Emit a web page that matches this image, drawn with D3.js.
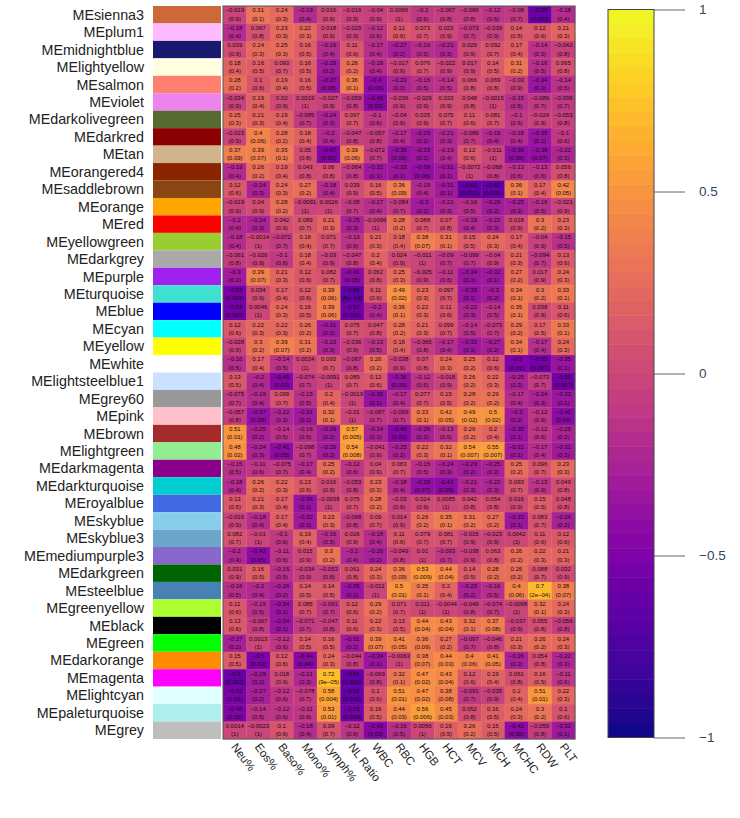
<!DOCTYPE html>
<html><head><meta charset="utf-8">
<script src="https://cdn.jsdelivr.net/npm/d3@7"></script>
<style>html,body{margin:0;padding:0;background:#fff}svg{display:block}text{font-family:"Liberation Sans",Arial,sans-serif}</style>
</head><body><div id="chart"></div>
<script>
const modules = ["MEsienna3","MEplum1","MEmidnightblue","MElightyellow","MEsalmon","MEviolet","MEdarkolivegreen","MEdarkred","MEtan","MEorangered4","MEsaddlebrown","MEorange","MEred","MEyellowgreen","MEdarkgrey","MEpurple","MEturquoise","MEblue","MEcyan","MEyellow","MEwhite","MElightsteelblue1","MEgrey60","MEpink","MEbrown","MElightgreen","MEdarkmagenta","MEdarkturquoise","MEroyalblue","MEskyblue","MEskyblue3","MEmediumpurple3","MEdarkgreen","MEsteelblue","MEgreenyellow","MEblack","MEgreen","MEdarkorange","MEmagenta","MElightcyan","MEpaleturquoise","MEgrey"];
const moduleColors = ["#CD6839","#FFBBFF","#191970","#FFFFE0","#FF8070","#EE82EE","#556B2F","#8B0000","#D2B48C","#8B2500","#8B4513","#FFA500","#FF0000","#9ACD32","#A9A9A9","#A020F0","#40E0D0","#0000FF","#00FFFF","#FFFF00","#FFFFFF","#CAE1FF","#999999","#FFC0CB","#A52A2A","#90EE90","#8B008B","#00CED1","#4169E1","#87CEEB","#6CA6CD","#8968CD","#006400","#4682B4","#ADFF2F","#000000","#00FF00","#FF8C00","#FF00FF","#E0FFFF","#AFEEEE","#BEBEBE"];
const traits = ["Neu%","Eos%","Baso%","Mono%","Lymph%","NL Ratio","WBC","RBC","HGB","HCT","MCV","MCH","MCHC","RDW","PLT"];
const corr = [
[-0.019,0.31,0.24,-0.19,0.016,-0.016,-0.04,0.0066,-0.1,-0.067,-0.066,-0.12,-0.08,-0.59,-0.18],
[-0.18,0.067,0.23,0.22,0.018,-0.029,-0.12,0.12,0.073,0.023,-0.073,-0.039,0.14,0.12,0.21],
[0.039,0.24,0.25,0.16,-0.19,0.11,-0.17,-0.27,-0.16,-0.21,0.029,0.092,0.17,-0.14,-0.042],
[0.18,0.16,0.093,0.16,-0.29,0.26,-0.18,-0.017,0.076,-0.022,0.017,0.14,0.31,-0.16,0.065],
[0.28,0.1,0.19,0.16,-0.37,0.36,-0.4,-0.23,-0.16,-0.14,0.066,0.069,-0.03,-0.34,-0.14],
[-0.034,0.19,0.02,0.0019,-0.027,-0.059,-0.45,-0.036,-0.029,0.033,0.048,-0.0015,-0.15,-0.089,-0.096],
[0.25,0.21,0.19,-0.085,-0.24,0.097,-0.1,-0.04,0.035,0.075,0.11,0.081,-0.1,-0.024,-0.053],
[-0.023,0.4,0.28,0.18,-0.2,-0.047,-0.057,-0.17,-0.29,-0.21,-0.089,-0.19,-0.18,-0.35,-0.1],
[0.37,0.39,0.35,0.05,-0.47,0.39,-0.072,-0.36,-0.33,-0.19,0.12,-0.011,-0.39,-0.38,-0.22],
[-0.19,0.26,0.19,0.043,0.06,-0.064,-0.32,-0.33,-0.39,-0.31,-0.0072,-0.068,-0.13,-0.13,0.056],
[0.12,-0.24,0.24,0.27,-0.18,0.039,0.16,0.36,-0.19,-0.31,-0.63,-0.62,0.36,0.17,0.42],
[-0.019,0.04,0.28,-0.0091,0.0026,-0.08,-0.17,-0.084,-0.3,-0.21,-0.16,-0.29,-0.25,-0.16,-0.021],
[-0.2,-0.24,0.042,0.089,0.21,-0.25,-0.0096,0.28,0.088,0.07,-0.19,-0.22,0.018,0.3,0.23],
[-0.18,-0.0014,-0.072,0.18,0.071,-0.13,0.21,0.18,0.38,0.31,0.15,0.24,0.17,-0.04,-0.15],
[-0.061,-0.026,-0.1,0.18,-0.03,-0.047,0.2,0.024,-0.011,-0.09,-0.099,-0.04,0.21,-0.094,0.13],
[-0.3,0.39,0.21,0.12,0.082,-0.41,0.062,0.25,-0.025,-0.11,-0.34,-0.32,0.27,0.017,0.24],
[-0.53,0.034,0.17,0.12,0.39,-0.65,0.11,0.49,0.23,0.097,-0.35,-0.3,0.34,0.3,0.33],
[-0.54,0.0046,0.24,0.16,0.39,-0.57,-0.2,0.36,0.22,0.11,-0.22,-0.14,0.35,0.038,0.11],
[0.12,0.22,0.22,0.26,-0.31,0.075,0.047,0.28,0.21,0.099,-0.14,-0.073,0.29,0.17,0.33],
[-0.028,0.3,0.39,0.31,-0.23,-0.036,-0.13,0.18,-0.065,-0.17,-0.32,-0.27,0.34,-0.17,0.24],
[-0.16,0.17,-0.14,0.0024,0.093,-0.067,0.26,-0.038,0.07,0.24,0.25,0.12,-0.5,-0.55,-0.35],
[0.13,-0.2,-0.45,-0.074,-0.0091,0.089,0.12,-0.36,-0.12,-0.018,0.26,0.22,-0.25,-0.073,-0.55],
[-0.075,-0.19,0.099,-0.15,0.2,-0.0019,-0.36,-0.17,0.077,0.15,0.28,0.29,-0.17,-0.24,-0.33],
[-0.057,-0.37,-0.22,-0.31,0.32,-0.01,-0.087,-0.099,0.33,0.42,0.49,0.5,-0.3,-0.12,-0.42],
[0.51,-0.25,-0.14,-0.16,-0.29,0.57,-0.24,-0.45,-0.26,-0.13,0.26,0.2,-0.35,-0.12,-0.25],
[0.48,-0.24,-0.41,-0.098,-0.29,0.54,-0.041,-0.25,0.22,0.32,0.54,0.55,-0.31,-0.17,-0.31],
[-0.15,-0.11,-0.075,-0.17,0.25,-0.12,0.04,0.083,-0.15,-0.24,-0.29,-0.25,0.25,0.096,0.23],
[-0.18,0.26,0.22,0.13,0.016,-0.053,0.23,-0.18,-0.39,-0.41,-0.21,-0.22,0.093,-0.13,0.049],
[0.13,0.21,0.17,-0.36,-0.0036,0.075,0.28,-0.03,0.024,0.0085,0.042,0.054,0.016,0.15,0.048],
[-0.016,-0.18,0.17,-0.32,0.23,-0.068,0.09,0.014,0.26,0.35,0.31,0.27,-0.33,0.083,-0.26],
[0.082,-0.01,-0.1,0.19,-0.16,0.026,-0.18,0.11,0.079,0.081,-0.015,-0.023,0.0042,0.11,0.12],
[-0.2,-0.42,-0.11,0.015,0.3,-0.2,-0.26,-0.049,0.01,-0.093,-0.038,0.063,0.26,0.22,0.21],
[0.031,0.16,-0.15,-0.034,-0.053,0.061,0.24,0.36,0.53,0.44,0.14,0.28,0.26,0.088,0.032],
[-0.16,-0.2,-0.26,0.14,0.14,-0.35,-0.011,0.5,0.35,0.2,-0.25,-0.16,0.4,0.7,0.38],
[0.11,-0.15,-0.34,0.085,-0.091,0.12,0.29,0.071,0.011,-0.0044,-0.049,-0.074,-0.0098,0.32,0.24],
[0.13,-0.067,-0.34,-0.071,-0.047,0.11,0.22,0.13,0.44,0.43,0.32,0.37,-0.037,0.055,-0.056],
[-0.27,0.0013,-0.12,0.14,0.16,-0.31,0.39,0.41,0.36,0.27,-0.097,-0.046,0.21,0.26,0.24],
[0.15,-0.5,0.12,-0.44,0.24,-0.044,-0.34,-0.0063,0.38,0.44,0.4,0.41,-0.26,0.054,-0.22],
[-0.6,-0.29,0.018,-0.21,0.72,-0.64,-0.069,0.32,0.47,0.43,0.12,0.19,0.061,0.16,-0.11],
[-0.52,-0.27,-0.12,-0.078,0.58,-0.62,0.1,0.51,0.47,0.38,-0.091,-0.035,0.2,0.51,0.22],
[-0.48,-0.14,-0.12,-0.11,0.53,-0.56,0.16,0.44,0.56,0.45,0.052,0.16,0.24,0.3,0.1],
[0.0014,-0.0023,0.1,-0.18,0.09,-0.12,-0.45,-0.16,0.0056,0.16,0.26,0.15,-0.42,-0.059,-0.32]
];
const pvals = [
"0.9 0.1 0.3 0.4 0.9 0.9 0.9 1 0.6 0.8 0.8 0.6 0.7 0.003 0.4",
"0.4 0.8 0.3 0.3 0.9 0.9 0.6 0.6 0.7 0.9 0.7 0.9 0.5 0.6 0.3",
"0.9 0.3 0.3 0.5 0.4 0.6 0.4 0.2 0.5 0.3 0.9 0.7 0.4 0.5 0.8",
"0.4 0.5 0.7 0.5 0.2 0.2 0.4 0.9 0.7 0.9 0.9 0.5 0.2 0.5 0.8",
"0.2 0.6 0.4 0.5 0.08 0.1 0.06 0.3 0.5 0.5 0.8 0.8 0.9 0.1 0.5",
"0.9 0.4 0.9 1 0.9 0.8 0.03 0.9 0.9 0.9 0.8 1 0.5 0.7 0.7",
"0.3 0.3 0.4 0.7 0.3 0.7 0.6 0.9 0.9 0.7 0.6 0.7 0.6 0.9 0.8",
"0.9 0.06 0.2 0.4 0.4 0.8 0.8 0.4 0.2 0.3 0.7 0.4 0.4 0.1 0.6",
"0.09 0.07 0.1 0.8 0.02 0.06 0.7 0.09 0.1 0.4 0.6 1 0.06 0.07 0.3",
"0.4 0.2 0.4 0.8 0.8 0.8 0.1 0.1 0.06 0.1 1 0.8 0.6 0.6 0.8",
"0.6 0.3 0.3 0.2 0.4 0.9 0.5 0.09 0.4 0.1 0.001 0.001 0.1 0.4 0.05",
"0.9 0.9 0.2 1 1 0.7 0.4 0.7 0.2 0.3 0.5 0.2 0.2 0.5 0.9",
"0.4 0.3 0.9 0.7 0.3 0.3 1 0.2 0.7 0.8 0.4 0.3 0.9 0.2 0.3",
"0.4 1 0.7 0.4 0.7 0.6 0.3 0.4 0.07 0.1 0.5 0.3 0.4 0.9 0.5",
"0.8 0.9 0.6 0.4 0.9 0.8 0.4 0.9 1 0.7 0.7 0.9 0.3 0.7 0.6",
"0.2 0.07 0.3 0.6 0.7 0.05 0.8 0.3 0.9 0.6 0.1 0.1 0.2 0.9 0.3",
"0.009 0.9 0.4 0.6 0.06 8e-04 0.6 0.02 0.3 0.7 0.1 0.2 0.1 0.2 0.1",
"0.007 1 0.3 0.5 0.06 0.005 0.4 0.1 0.3 0.6 0.3 0.5 0.1 0.9 0.6",
"0.6 0.3 0.3 0.2 0.2 0.7 0.8 0.2 0.3 0.7 0.5 0.7 0.2 0.5 0.1",
"0.9 0.2 0.07 0.2 0.3 0.9 0.5 0.4 0.8 0.4 0.1 0.2 0.1 0.4 0.3",
"0.5 0.4 0.5 1 0.7 0.8 0.2 0.9 0.8 0.3 0.2 0.6 0.01 0.007 0.1",
"0.5 0.4 0.03 0.7 1 0.7 0.6 0.09 0.6 0.9 0.2 0.3 0.3 0.7 0.007",
"0.7 0.4 0.7 0.5 0.4 1 0.1 0.4 0.7 0.5 0.2 0.2 0.4 0.3 0.1",
"0.8 0.08 0.3 0.2 0.1 1 0.7 0.7 0.1 0.05 0.02 0.02 0.2 0.6 0.04",
"0.01 0.2 0.5 0.5 0.2 0.005 0.3 0.03 0.2 0.5 0.2 0.4 0.1 0.6 0.2",
"0.02 0.3 0.05 0.7 0.2 0.008 0.9 0.2 0.3 0.1 0.007 0.007 0.1 0.4 0.2",
"0.5 0.6 0.7 0.4 0.2 0.6 0.9 0.7 0.5 0.3 0.2 0.3 0.2 0.7 0.3",
"0.4 0.2 0.3 0.6 0.9 0.8 0.3 0.4 0.07 0.05 0.3 0.3 0.7 0.6 0.8",
"0.5 0.3 0.4 0.1 1 0.7 0.2 0.9 0.9 1 0.8 0.8 0.9 0.5 0.8",
"0.9 0.4 0.4 0.1 0.3 0.8 0.7 0.9 0.2 0.1 0.2 0.2 0.1 0.7 0.2",
"0.7 1 0.6 0.4 0.5 0.9 0.4 0.6 0.7 0.7 0.9 0.9 1 0.6 0.6",
"0.4 0.05 0.6 0.9 0.2 0.4 0.2 0.8 1 0.7 0.9 0.8 0.2 0.3 0.3",
"0.9 0.5 0.5 0.9 0.8 0.8 0.3 0.09 0.009 0.04 0.5 0.2 0.2 0.7 0.9",
"0.5 0.4 0.2 0.5 0.5 0.1 1 0.01 0.1 0.4 0.2 0.5 0.06 2e-04 0.07",
"0.6 0.5 0.1 0.7 0.7 0.6 0.2 0.7 1 1 0.8 0.7 1 0.1 0.3",
"0.6 0.8 0.1 0.7 0.8 0.6 0.3 0.5 0.04 0.04 0.1 0.08 0.9 0.8 0.8",
"0.2 1 0.6 0.5 0.5 0.2 0.07 0.05 0.09 0.2 0.7 0.8 0.3 0.2 0.3",
"0.5 0.02 0.6 0.04 0.3 0.8 0.1 1 0.07 0.03 0.06 0.05 0.2 0.8 0.3",
"0.002 0.2 0.9 0.3 9e-05 0.001 0.8 0.1 0.02 0.04 0.6 0.4 0.8 0.5 0.6",
"0.01 0.2 0.6 0.7 0.004 0.001 0.6 0.01 0.02 0.08 0.7 0.9 0.4 0.01 0.3",
"0.02 0.5 0.6 0.6 0.01 0.006 0.5 0.03 0.006 0.03 0.8 0.5 0.3 0.2 0.6",
"1 1 0.6 0.4 0.7 0.6 0.03 0.5 1 0.5 0.2 0.5 0.05 0.8 0.1"
];
const legendTicks = [-1,-0.5,0,0.5,1];

const W = 740, H = 818;
const svg = d3.select("#chart").append("svg").attr("width",W).attr("height",H);
const x = d3.scaleBand().domain(traits).range([223,575]);
const y = d3.scaleBand().domain(modules).range([6,739]);
const color = d3.scaleSequential(d3.interpolatePlasma).domain([-1,1]);
const minus = s => String(s).replace(/-/g,"\u2212");

// module colour swatches
svg.append("g").selectAll("rect").data(modules).join("rect")
  .attr("x",153).attr("width",68)
  .attr("y",d=>y(d)).attr("height",y.bandwidth())
  .attr("fill",(d,i)=>moduleColors[i]);
svg.append("g").selectAll("text").data(modules).join("text")
  .attr("x",144).attr("y",d=>y(d)+y.bandwidth()/2+5)
  .attr("text-anchor","end").attr("font-size",14.3).attr("fill","#222").text(d=>d);

// heatmap
const cells = corr.flatMap((row,r)=>{
  const ps = pvals[r].split(" ");
  return row.map((v,c)=>({m:modules[r],t:traits[c],v,p:ps[c]}));
});
svg.append("g").selectAll("rect").data(cells).join("rect")
  .attr("x",d=>x(d.t)).attr("y",d=>y(d.m))
  .attr("width",x.bandwidth()+0.3).attr("height",y.bandwidth()+0.3)
  .attr("fill",d=>color(d.v));
const lab = svg.append("g").attr("font-size",6).attr("fill","#140a10").attr("text-anchor","middle");
cells.forEach(d=>{
  const cx = x(d.t)+x.bandwidth()/2, cy = y(d.m)+y.bandwidth()/2;
  lab.append("text").attr("x",cx).attr("y",cy-2.3).text(minus(d.v));
  lab.append("text").attr("x",cx).attr("y",cy+5.9).text("("+minus(d.p)+")");
});
svg.append("rect").attr("x",223).attr("y",6).attr("width",352).attr("height",733)
  .attr("fill","none").attr("stroke","#555").attr("stroke-width",1);

// trait labels
svg.append("g").selectAll("text").data(traits).join("text")
  .attr("transform",d=>`translate(${x(d)+x.bandwidth()/2-4},${747}) rotate(53)`)
  .attr("font-size",11.5).attr("fill","#222").text(d=>d);

// colour bar
const barY = d3.scaleLinear().domain([-1,1]).range([737.5,9.5]);
const nBands = 50;
const bands = d3.range(nBands).map(i=>-1+2*i/nBands);
svg.append("g").selectAll("rect").data(bands).join("rect")
  .attr("x",608).attr("width",46)
  .attr("y",d=>barY(d+2/nBands)).attr("height",d=>barY(d)-barY(d+2/nBands)+0.5)
  .attr("fill",d=>color(d+1/nBands));
svg.append("rect").attr("x",608).attr("y",9.5).attr("width",46).attr("height",728)
  .attr("fill","none").attr("stroke","#444").attr("stroke-width",1);
const axis = svg.append("g").attr("transform","translate(654,0)")
  .call(d3.axisRight(barY).tickValues(legendTicks).tickSize(31).tickPadding(14)
    .tickFormat(d=>minus(d)));
axis.select(".domain").remove();
axis.selectAll("line").attr("stroke","#666");
axis.selectAll("text").attr("font-size",13.5).attr("fill","#33475b")
  .attr("font-family",'"Liberation Sans",Arial,sans-serif');
</script></body></html>
